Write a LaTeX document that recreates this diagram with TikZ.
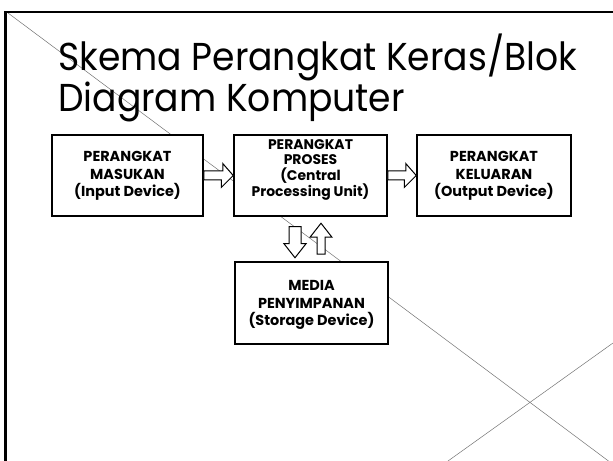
\documentclass[tikz,border=0pt]{standalone}
\usepackage{fontspec}
\setmainfont{Poppins}
\newfontfamily\titlefont[FakeStretch=0.93]{Poppins}
\usetikzlibrary{calc}
\begin{document}
\begin{tikzpicture}[x=1bp,y=-1bp,
  box/.style={draw, line width=1.5bp, fill=white, inner sep=0pt},
  boxtext/.style={font=\fontsize{14.5}{17.5}\selectfont\bfseries, align=center, inner sep=0pt, anchor=base},
  tightbox/.style={font=\fontsize{14}{15.5}\selectfont\bfseries},
  barrow/.style={draw, line width=1bp, fill=white, line join=miter},
  diag/.style={draw=black!55, line width=0.5bp},
  frame/.style={line width=2.5bp}]
\useasboundingbox (0,0) rectangle (613,461);
% decorative diagonals
\coordinate (d1a) at (8,13);
\coordinate (d1b) at (608.5,461);
\coordinate (d2a) at (448,461);
\coordinate (d2b) at (613,343);
\draw[diag] (d1a) -- (d1b);
\draw[diag] (d2a) -- (d2b);
% frame
\coordinate (fbl) at (5.5,461);
\coordinate (ftl) at (5.5,12);
\coordinate (ftr) at (613,12);
\draw[frame] (fbl) -- (ftl) -- (ftr);
% title
\node[anchor=base west, align=left, inner sep=0pt,
      font=\titlefont\fontsize{39}{38}\selectfont] (title) at (58,112)
  {Skema Perangkat Keras/Blok\\Diagram Komputer};
% boxes
\node[box, minimum width=151bp, minimum height=81bp] (in) at (127.5,175.5) {};
\node[box, minimum width=153bp, minimum height=81bp] (cpu) at (310.5,175.5) {};
\node[box, minimum width=154bp, minimum height=81bp] (out) at (494,175.5) {};
\node[box, minimum width=153bp, minimum height=82bp] (store) at (311.5,303) {};
% box texts (anchored at the baseline of their last line)
\node[boxtext] (tin) at ($(in.south)+(0,-20)$) {PERANGKAT\\MASUKAN\\(Input Device)};
\node[boxtext, tightbox] (tcpu) at ($(cpu.south)+(0,-20)$) {PERANGKAT\\PROSES\\(Central\\Processing Unit)};
\node[boxtext] (tout) at ($(out.south)+(0,-20)$) {PERANGKAT\\KELUARAN\\(Output Device)};
\node[boxtext] (tstore) at ($(store.south)+(0,-19)$) {MEDIA\\PENYIMPANAN\\(Storage Device)};
% block arrows
\draw[barrow] ($(in.east)+(0,-4.5)$) -- ++(19,0) -- ++(0,-7.5) -- (cpu.west)
  -- ++(-12,12) -- ++(0,-7.5) -- ($(in.east)+(0,4.5)$) -- cycle;
\draw[barrow] ($(cpu.east)+(0,-4.5)$) -- ++(18,0) -- ++(0,-7.5) -- (out.west)
  -- ++(-12,12) -- ++(0,-7.5) -- ($(cpu.east)+(0,4.5)$) -- cycle;
\coordinate (dtop) at ($(cpu.south)+(-15.5,10)$);
\draw[barrow] ($(dtop)+(-6,0)$) -- ++(12,0) -- ++(0,17) -- ++(5,0) -- ++(-11,14)
  -- ++(-11,-14) -- ++(5,0) -- cycle;
\coordinate (ubot) at ($(store.north)+(9.5,-7)$);
\draw[barrow] ($(ubot)+(-4,0)$) -- ++(8,0) -- ++(0,-17) -- ++(7,0) -- ++(-11,-14)
  -- ++(-11,14) -- ++(7,0) -- cycle;
\end{tikzpicture}
\end{document}
